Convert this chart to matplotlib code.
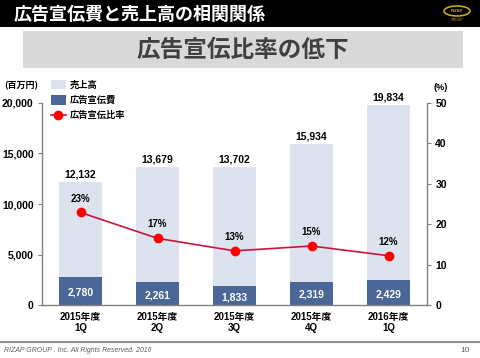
import matplotlib
matplotlib.use("Agg")
import matplotlib.pyplot as plt
from matplotlib.patches import Rectangle, Patch, Ellipse
from matplotlib.lines import Line2D

plt.rcParams['font.family'] = ['Liberation Sans', 'Noto Sans CJK JP', 'DejaVu Sans']

categories = ["2015年度\n1Q", "2015年度\n2Q", "2015年度\n3Q", "2015年度\n4Q", "2016年度\n1Q"]
sales = [12132, 13679, 13702, 15934, 19834]
ad_cost = [2780, 2261, 1833, 2319, 2429]
ad_ratio = [22.9, 16.5, 13.4, 14.6, 12.2]
ratio_labels = ["23%", "17%", "13%", "15%", "12%"]
left_ticks = [0, 5000, 10000, 15000, 20000]
right_ticks = [0, 10, 20, 30, 40, 50]

W, H = 480, 358
fig = plt.figure(figsize=(4.8, 3.58), dpi=100)

def fx(x): return x / W
def fy(y): return 1 - y / H

# header
fig.patches.append(Rectangle((0, fy(27)), 1, 27 / H, transform=fig.transFigure,
                             facecolor='black', edgecolor='none', zorder=0))
fig.text(fx(14), fy(14), "広告宣伝費と売上高の相関関係", color='white', fontsize=13,
         fontweight='bold', va='center', ha='left', family=['Noto Sans CJK JP'])
fig.patches.append(Ellipse((fx(457), fy(11)), 26 / W, 10 / H, transform=fig.transFigure,
                           facecolor='none', edgecolor='#C9A227', lw=1.2))
fig.text(fx(457), fy(11), "RIZAP", color='#C9A227', fontsize=3, ha='center', va='center',
         fontweight='bold')
fig.text(fx(457), fy(20), "GROUP", color='#C9A227', fontsize=2.5, ha='center', va='center')

# subtitle box
fig.patches.append(Rectangle((fx(23), fy(68)), (463 - 23) / W, 37 / H, transform=fig.transFigure,
                             facecolor='#D9D9D9', edgecolor='none', zorder=0))
fig.text(fx(243), fy(50), "広告宣伝比率の低下", color='#404040', fontsize=17,
         fontweight='bold', va='center', ha='center', family=['Noto Sans CJK JP'])

# axes
ax = fig.add_axes([fx(42), fy(305), (427 - 42) / W, (305 - 103) / H])
x = list(range(len(categories)))
bw = 0.56
ax.bar(x, sales, width=bw, color='#DCE3EE', zorder=1)
ax.bar(x, ad_cost, width=bw, color='#4A6797', zorder=2)
ax.set_xlim(-0.5, 4.5)
ax.set_ylim(0, 20000)
ax.set_yticks(left_ticks)
ax.set_yticklabels([f"{v:,}" for v in left_ticks], fontsize=7.5, fontweight='bold')
ax.set_xticks(x)
ax.set_xticklabels(categories, fontsize=7, fontweight='bold', linespacing=1.1)
ax.tick_params(axis='x', length=0, pad=5)
ax.tick_params(axis='y', length=3, width=0.8, color='#808080', pad=3)
for s in ['top', 'right']:
    ax.spines[s].set_visible(False)
for s in ['left', 'bottom']:
    ax.spines[s].set_color('#808080')
    ax.spines[s].set_linewidth(1.0)

for xi, v in zip(x, sales):
    ax.text(xi, v + 250, f"{v:,}", ha='center', va='bottom', fontsize=7.5, fontweight='bold')
for xi, v in zip(x, ad_cost):
    ax.text(xi, v / 2 - 150, f"{v:,}", ha='center', va='center', fontsize=7.5,
            fontweight='bold', color='white')

ax2 = ax.twinx()
ax2.set_ylim(0, 50)
ax2.set_yticks(right_ticks)
ax2.set_yticklabels([str(v) for v in right_ticks], fontsize=7.5, fontweight='bold')
ax2.tick_params(axis='y', length=3, width=0.8, color='#808080', pad=3)
for s in ['top', 'left', 'bottom']:
    ax2.spines[s].set_visible(False)
ax2.spines['right'].set_color('#808080')
ax2.spines['right'].set_linewidth(1.0)
ax2.plot(x, ad_ratio, color='#C8143C', lw=1.2, marker='o', markersize=6,
         markerfacecolor='#FF0000', markeredgecolor='#FF0000', zorder=5)
for xi, v, lab in zip(x, ad_ratio, ratio_labels):
    ax2.text(xi, v + 2.2, lab, ha='center', va='bottom', fontsize=7, fontweight='bold')

handles = [Patch(facecolor='#DCE3EE', edgecolor='none'),
           Patch(facecolor='#4A6797', edgecolor='none'),
           Line2D([0], [0], color='#C8143C', lw=1.2, marker='o', markersize=6,
                  markerfacecolor='#FF0000', markeredgecolor='#FF0000')]
labels = ["売上高", "広告宣伝費", "広告宣伝比率"]
leg = fig.legend(handles, labels, loc='upper left', bbox_to_anchor=(fx(51), fy(80)),
                 frameon=False, prop={'size': 6.7, 'weight': 'bold', 'family': ['Noto Sans CJK JP']},
                 handlelength=1.6, handleheight=1.15, handletextpad=0.4, labelspacing=0.6,
                 borderaxespad=0, borderpad=0)

fig.text(fx(4), fy(86), "(百万円)", fontsize=6.5, fontweight='bold', ha='left', va='center',
         family=['Noto Sans CJK JP'])
fig.text(fx(433), fy(87), "(%)", fontsize=6.5, fontweight='bold', ha='left', va='center')

# footer
fig.add_artist(Line2D([0, 1], [fy(342), fy(342)], transform=fig.transFigure,
                      color='#909090', lw=1.5))
fig.text(fx(4), fy(351), "RIZAP GROUP . Inc. All Rights Reserved. 2016", fontsize=5,
         style='italic', color='#606060', ha='left', va='center')
fig.text(fx(470), fy(351), "10", fontsize=6, color='#606060', ha='right', va='center')

fig.savefig("out.png", dpi=100)
